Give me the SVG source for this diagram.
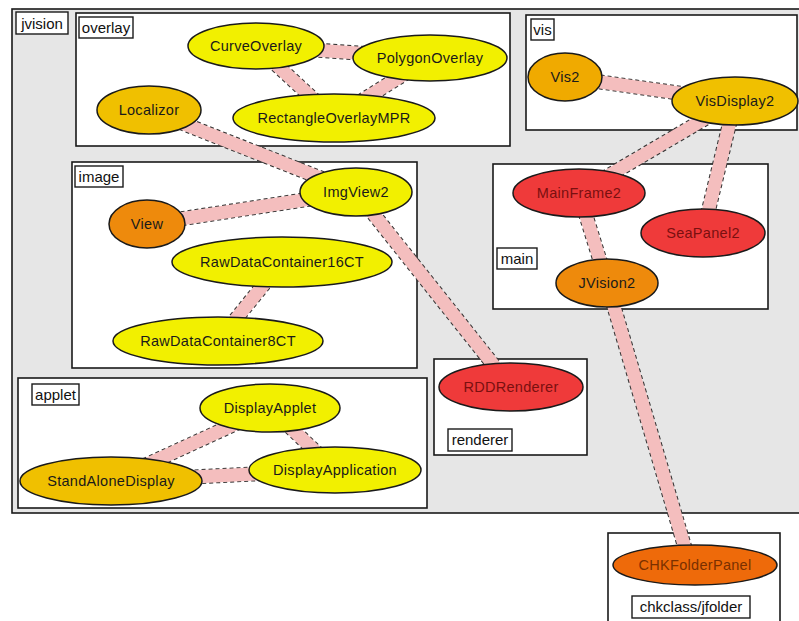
<svg xmlns="http://www.w3.org/2000/svg" width="799" height="621" viewBox="0 0 799 621">
<style>
.cl{fill:#fff;stroke:#1a1a1a;stroke-width:1.6}
.outer{fill:#e6e6e6;stroke:#1a1a1a;stroke-width:1.6}
.lb{fill:#fff;stroke:#1a1a1a;stroke-width:1.4}
.lt{font-family:"Liberation Sans",Arial,sans-serif;font-size:15px;fill:#111;text-anchor:middle}
.nd{stroke:#1a1a1a;stroke-width:1.5}
.nt{font-family:"Liberation Sans",Arial,sans-serif;font-size:14.5px;letter-spacing:0.3px;fill:#1a1a1a;text-anchor:middle}
.rt{fill:#7a1010}
.ot{fill:#7a3000}
.y{fill:#f2f000}
.g{fill:#f0c000}
.o{fill:#ee8a0c}
.r{fill:#ef3a3a}
.rr{fill:#ee6a0a}
.eb{stroke:#333;stroke-width:15;stroke-dasharray:4 3;fill:none}
.ef{stroke:#f4bebe;stroke-width:13;fill:none}
</style>
<rect width="799" height="621" fill="#fff"/>
<g id="clusters">
<rect class="outer" x="12" y="9" width="790" height="504"/>
<rect class="cl" x="76" y="13" width="434" height="133"/>
<rect class="cl" x="526" y="15" width="271" height="115"/>
<rect class="cl" x="72" y="162" width="345" height="206"/>
<rect class="cl" x="493" y="164" width="275" height="145"/>
<rect class="cl" x="18" y="378" width="409" height="130"/>
<rect class="cl" x="434" y="359" width="153" height="96"/>
<rect class="cl" x="608" y="533" width="172" height="100"/>
</g>
<g id="connectors">
<g class="eb">
<line x1="256" y1="46" x2="430" y2="58"/>
<line x1="256" y1="46" x2="334" y2="118"/>
<line x1="430" y1="58" x2="334" y2="118"/>
<line x1="149" y1="110" x2="356" y2="192"/>
<line x1="147" y1="224" x2="356" y2="192"/>
<line x1="356" y1="192" x2="511" y2="387"/>
<line x1="282" y1="262" x2="218" y2="341"/>
<line x1="565" y1="77" x2="735" y2="101"/>
<line x1="735" y1="101" x2="579" y2="193"/>
<line x1="735" y1="101" x2="703" y2="233"/>
<line x1="579" y1="193" x2="607" y2="283"/>
<line x1="607" y1="283" x2="690" y2="565"/>
<line x1="270" y1="408" x2="111" y2="481"/>
<line x1="270" y1="408" x2="335" y2="470"/>
<line x1="111" y1="481" x2="335" y2="470"/>
</g>
<g class="ef">
<line x1="256" y1="46" x2="430" y2="58"/>
<line x1="256" y1="46" x2="334" y2="118"/>
<line x1="430" y1="58" x2="334" y2="118"/>
<line x1="149" y1="110" x2="356" y2="192"/>
<line x1="147" y1="224" x2="356" y2="192"/>
<line x1="356" y1="192" x2="511" y2="387"/>
<line x1="282" y1="262" x2="218" y2="341"/>
<line x1="565" y1="77" x2="735" y2="101"/>
<line x1="735" y1="101" x2="579" y2="193"/>
<line x1="735" y1="101" x2="703" y2="233"/>
<line x1="579" y1="193" x2="607" y2="283"/>
<line x1="607" y1="283" x2="690" y2="565"/>
<line x1="270" y1="408" x2="111" y2="481"/>
<line x1="270" y1="408" x2="335" y2="470"/>
<line x1="111" y1="481" x2="335" y2="470"/>
</g>
</g>
<g id="labels">
<rect class="lb" x="16" y="12" width="52" height="22"/><text class="lt" x="42" y="29">jvision</text>
<rect class="lb" x="79" y="17" width="54" height="21"/><text class="lt" x="106" y="33">overlay</text>
<rect class="lb" x="531" y="19" width="23" height="21"/><text class="lt" x="542.5" y="35">vis</text>
<rect class="lb" x="75" y="166" width="48" height="21"/><text class="lt" x="99" y="182">image</text>
<rect class="lb" x="497" y="248" width="40" height="21"/><text class="lt" x="517" y="264">main</text>
<rect class="lb" x="32" y="384" width="47" height="21"/><text class="lt" x="55.5" y="400">applet</text>
<rect class="lb" x="448" y="429" width="64" height="22"/><text class="lt" x="480" y="445">renderer</text>
<rect class="lb" x="632" y="596" width="118" height="22"/><text class="lt" x="691" y="612">chkclass/jfolder</text>
</g>
<g id="CurveOverlay"><ellipse class="nd y" cx="256" cy="46" rx="68" ry="23"/><text class="nt" x="256" y="51">CurveOverlay</text></g>
<g id="PolygonOverlay"><ellipse class="nd y" cx="430" cy="58" rx="77" ry="23"/><text class="nt" x="430" y="63">PolygonOverlay</text></g>
<g id="Localizor"><ellipse class="nd g" cx="149" cy="110" rx="52" ry="24"/><text class="nt" x="149" y="115">Localizor</text></g>
<g id="RectangleOverlayMPR"><ellipse class="nd y" cx="334" cy="118" rx="101" ry="24"/><text class="nt" x="334" y="123">RectangleOverlayMPR</text></g>
<g id="Vis2"><ellipse class="nd g" cx="565" cy="77" rx="37" ry="24" style="fill:#f0aa00"/><text class="nt" x="565" y="82">Vis2</text></g>
<g id="VisDisplay2"><ellipse class="nd g" cx="735" cy="101" rx="63" ry="24"/><text class="nt" x="735" y="106">VisDisplay2</text></g>
<g id="ImgView2"><ellipse class="nd y" cx="356" cy="192" rx="56" ry="24"/><text class="nt" x="356" y="197">ImgView2</text></g>
<g id="View"><ellipse class="nd o" cx="147" cy="224" rx="38" ry="24"/><text class="nt" x="147" y="229">View</text></g>
<g id="RawDataContainer16CT"><ellipse class="nd y" cx="282" cy="262" rx="110" ry="25"/><text class="nt" x="282" y="267">RawDataContainer16CT</text></g>
<g id="RawDataContainer8CT"><ellipse class="nd y" cx="218" cy="341" rx="105" ry="24"/><text class="nt" x="218" y="346">RawDataContainer8CT</text></g>
<g id="MainFrame2"><ellipse class="nd r" cx="579" cy="193" rx="66" ry="24"/><text class="nt rt" x="579" y="198">MainFrame2</text></g>
<g id="SeaPanel2"><ellipse class="nd r" cx="703" cy="233" rx="62" ry="24"/><text class="nt rt" x="703" y="238">SeaPanel2</text></g>
<g id="JVision2"><ellipse class="nd o" cx="607" cy="283" rx="51" ry="24"/><text class="nt" x="607" y="288">JVision2</text></g>
<g id="RDDRenderer"><ellipse class="nd r" cx="511" cy="387" rx="72" ry="24"/><text class="nt rt" x="511" y="392">RDDRenderer</text></g>
<g id="DisplayApplet"><ellipse class="nd y" cx="270" cy="408" rx="70" ry="24"/><text class="nt" x="270" y="413">DisplayApplet</text></g>
<g id="DisplayApplication"><ellipse class="nd y" cx="335" cy="470" rx="86" ry="23"/><text class="nt" x="335" y="475">DisplayApplication</text></g>
<g id="StandAloneDisplay"><ellipse class="nd g" cx="111" cy="481" rx="91" ry="24"/><text class="nt" x="111" y="486">StandAloneDisplay</text></g>
<g id="CHKFolderPanel"><ellipse class="nd rr" cx="695" cy="565" rx="82" ry="20"/><text class="nt ot" x="695" y="570">CHKFolderPanel</text></g>
</svg>
